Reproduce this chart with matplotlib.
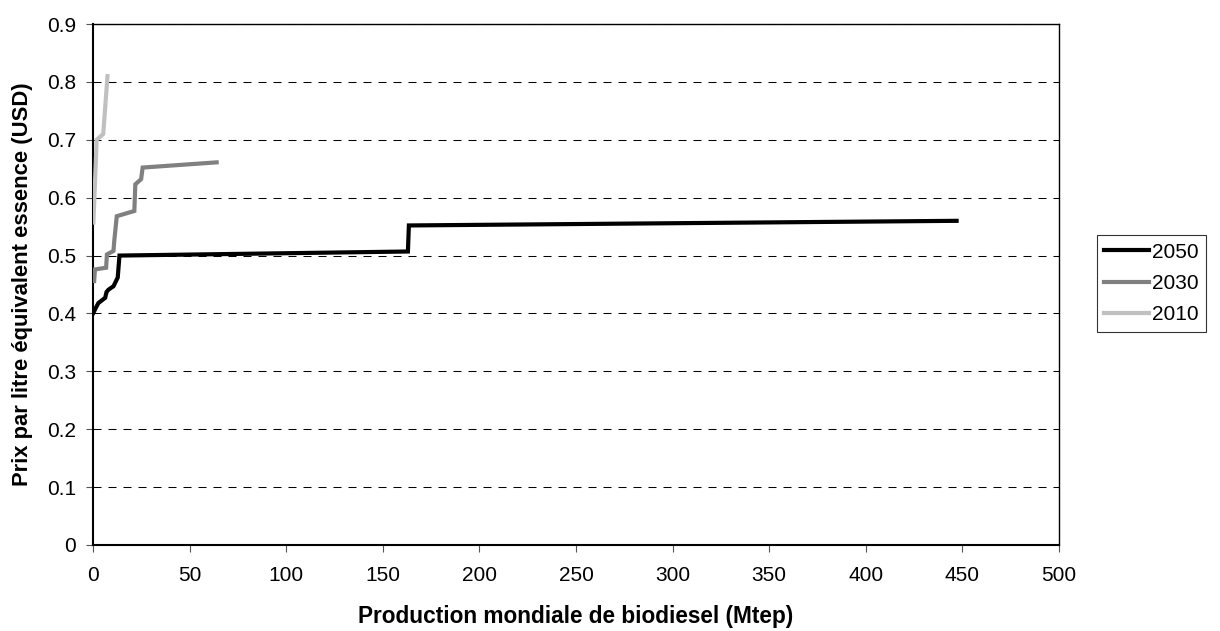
import matplotlib
matplotlib.use("Agg")
from matplotlib import pyplot as plt

plt.rcParams["font.family"] = ["Liberation Sans", "DejaVu Sans"]

# production (Mtep) vs price per litre gasoline equivalent (USD)
x_2050 = [0.2, 1.5, 2.8, 6.3, 7.0, 8.0, 10.6, 12.8, 13.7, 163.0, 163.5, 447.0]
y_2050 = [0.401, 0.410, 0.418, 0.427, 0.437, 0.441, 0.447, 0.462, 0.500, 0.507, 0.552, 0.560]

x_2030 = [0.6, 1.0, 6.8, 7.2, 10.6, 11.0, 12.3, 21.4, 21.9, 24.9, 25.7, 64.0]
y_2030 = [0.456, 0.476, 0.479, 0.502, 0.508, 0.525, 0.568, 0.577, 0.623, 0.632, 0.652, 0.661]

x_2010 = [0.2, 1.9, 5.3, 7.5]
y_2010 = [0.557, 0.700, 0.710, 0.810]

labels = ["2050", "2030", "2010"]
colors = ["#000000", "#808080", "#c0c0c0"]

fig = plt.figure(figsize=(12.2, 6.31), dpi=100)
ax = fig.add_axes([93 / 1220, 1 - 545 / 631, (1059 - 93) / 1220, (545 - 24) / 631])

series = [(x_2050, y_2050), (x_2030, y_2030), (x_2010, y_2010)]
for (xs, ys), lab, col in zip(series, labels, colors):
    ax.plot(xs, ys, color=col, linewidth=3.0, label=lab, solid_joinstyle="miter", zorder=3)

ax.set_xlim(0, 500)
ax.set_ylim(0, 0.9)
ax.set_xticks(range(0, 501, 50))
ax.set_yticks([i / 10 for i in range(10)])
ax.set_yticklabels(["0"] + [f"{i / 10:.1f}" for i in range(1, 10)])

ax.yaxis.grid(True, color="black", linestyle=(0, (7.7, 6.7)), linewidth=0.75)
ax.set_axisbelow(True)
ax.tick_params(direction="out", length=5, width=0.8, labelsize=15, color="#555555")
ax.tick_params(axis="x", pad=10)
ax.tick_params(axis="y", pad=7)
ax.spines["left"].set_linewidth(1.5)
ax.spines["bottom"].set_linewidth(1.5)
ax.spines["top"].set_linewidth(1.0)
ax.spines["right"].set_linewidth(1.0)

ax.set_xlabel("Production mondiale de biodiesel (Mtep)", fontsize=16.3, fontweight="bold")
ax.set_ylabel("Prix par litre équivalent essence (USD)", fontsize=15.8, fontweight="bold")
ax.xaxis.set_label_coords(0.5, (545 - 605) / 521)
ax.yaxis.set_label_coords((33 - 93) / 966, 0.5)

leg = ax.legend(
    loc="center left",
    bbox_to_anchor=(1097 / 1220, 1 - 283.5 / 631),
    bbox_transform=fig.transFigure,
    fontsize=15,
    frameon=True,
    fancybox=False,
    handlelength=2.16,
    handletextpad=0.15,
    borderpad=0.35,
    labelspacing=0.6,
    borderaxespad=0,
)
leg.get_frame().set_edgecolor("black")
leg.get_frame().set_linewidth(0.8)

fig.savefig("out.png", dpi=100)
